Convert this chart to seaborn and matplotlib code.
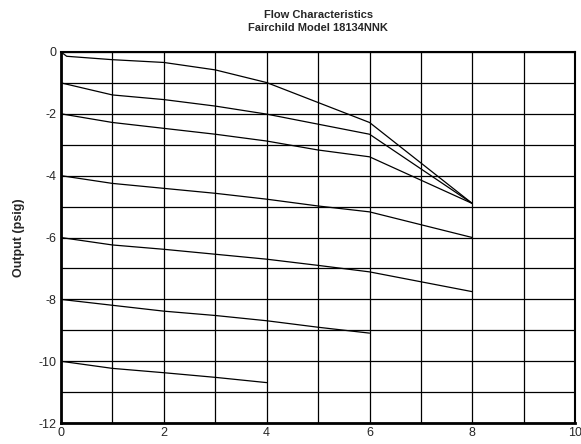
import pandas as pd
import seaborn as sns
import matplotlib.pyplot as plt

sns.set_style("white")
plt.rcParams['font.family'] = ['Liberation Sans', 'DejaVu Sans']

# one curve per starting output pressure (flow on x, output on y)
CURVE_0_X = [0, 0.11, 1, 2, 3, 4, 6, 8]
CURVE_0_Y = [0, -0.14, -0.25, -0.34, -0.58, -0.99, -2.28, -4.9]
CURVE_1_X = [0, 1, 2, 3, 4, 6, 8]
CURVE_1_Y = [-1, -1.39, -1.54, -1.75, -2.01, -2.66, -4.9]
CURVE_2_X = [0, 1, 2, 3, 4, 5, 6, 8]
CURVE_2_Y = [-2, -2.28, -2.47, -2.66, -2.88, -3.17, -3.39, -4.9]
CURVE_3_X = [0, 1, 2, 3, 4, 5, 6, 8]
CURVE_3_Y = [-4, -4.25, -4.41, -4.57, -4.76, -4.98, -5.17, -6.0]
CURVE_4_X = [0, 1, 2, 3, 4, 5, 6, 8]
CURVE_4_Y = [-6, -6.24, -6.38, -6.54, -6.70, -6.9, -7.11, -7.75]
CURVE_5_X = [0, 1, 2, 3, 4, 5, 6]
CURVE_5_Y = [-8, -8.19, -8.38, -8.52, -8.69, -8.9, -9.09]
CURVE_6_X = [0, 1, 2, 3, 4]
CURVE_6_Y = [-10, -10.23, -10.37, -10.52, -10.69]

X_TICKS = [0, 2, 4, 6, 8, 10]
Y_TICKS = [-12, -10, -8, -6, -4, -2, 0]

curves = [(CURVE_0_X, CURVE_0_Y), (CURVE_1_X, CURVE_1_Y), (CURVE_2_X, CURVE_2_Y),
          (CURVE_3_X, CURVE_3_Y), (CURVE_4_X, CURVE_4_Y), (CURVE_5_X, CURVE_5_Y),
          (CURVE_6_X, CURVE_6_Y)]
rows = []
for i, (xs, ys) in enumerate(curves):
    for x, y in zip(xs, ys):
        rows.append({'curve': i, 'flow': x, 'output': y})
df = pd.DataFrame(rows)

fig = plt.figure(figsize=(5.81, 4.44), dpi=100)
ax = fig.add_axes([0.105, 0.047, 0.885, 0.836])

sns.lineplot(data=df, x='flow', y='output', units='curve', estimator=None,
             color='black', linewidth=0.9, sort=False, ax=ax)

ax.set_xlim(0, 10)
ax.set_ylim(-12, 0)
ax.set_xticks(range(0, 11), minor=False)
ax.set_yticks(range(-12, 1))
ax.set_xticklabels([str(v) if v in X_TICKS else '' for v in range(0, 11)])
ax.set_yticklabels([str(v) if v in Y_TICKS else '' for v in range(-12, 1)])
ax.tick_params(length=0, labelsize=9, pad=3)
ax.grid(True, color='black', linewidth=0.9)
ax.set_axisbelow(True)

for side in ['left', 'bottom']:
    ax.spines[side].set_linewidth(2)
for side in ['top', 'right']:
    ax.spines[side].set_linewidth(1.5)
for s in ax.spines.values():
    s.set_color('black')

ax.set_xlabel('')
ax.set_ylabel('Output (psig)', fontsize=9, fontweight='bold', labelpad=10)
ax.set_title('Flow Characteristics\nFairchild Model 18134NNK', fontsize=8,
             fontweight='bold', pad=15, linespacing=1.4)

plt.savefig('out.png', dpi=100)
